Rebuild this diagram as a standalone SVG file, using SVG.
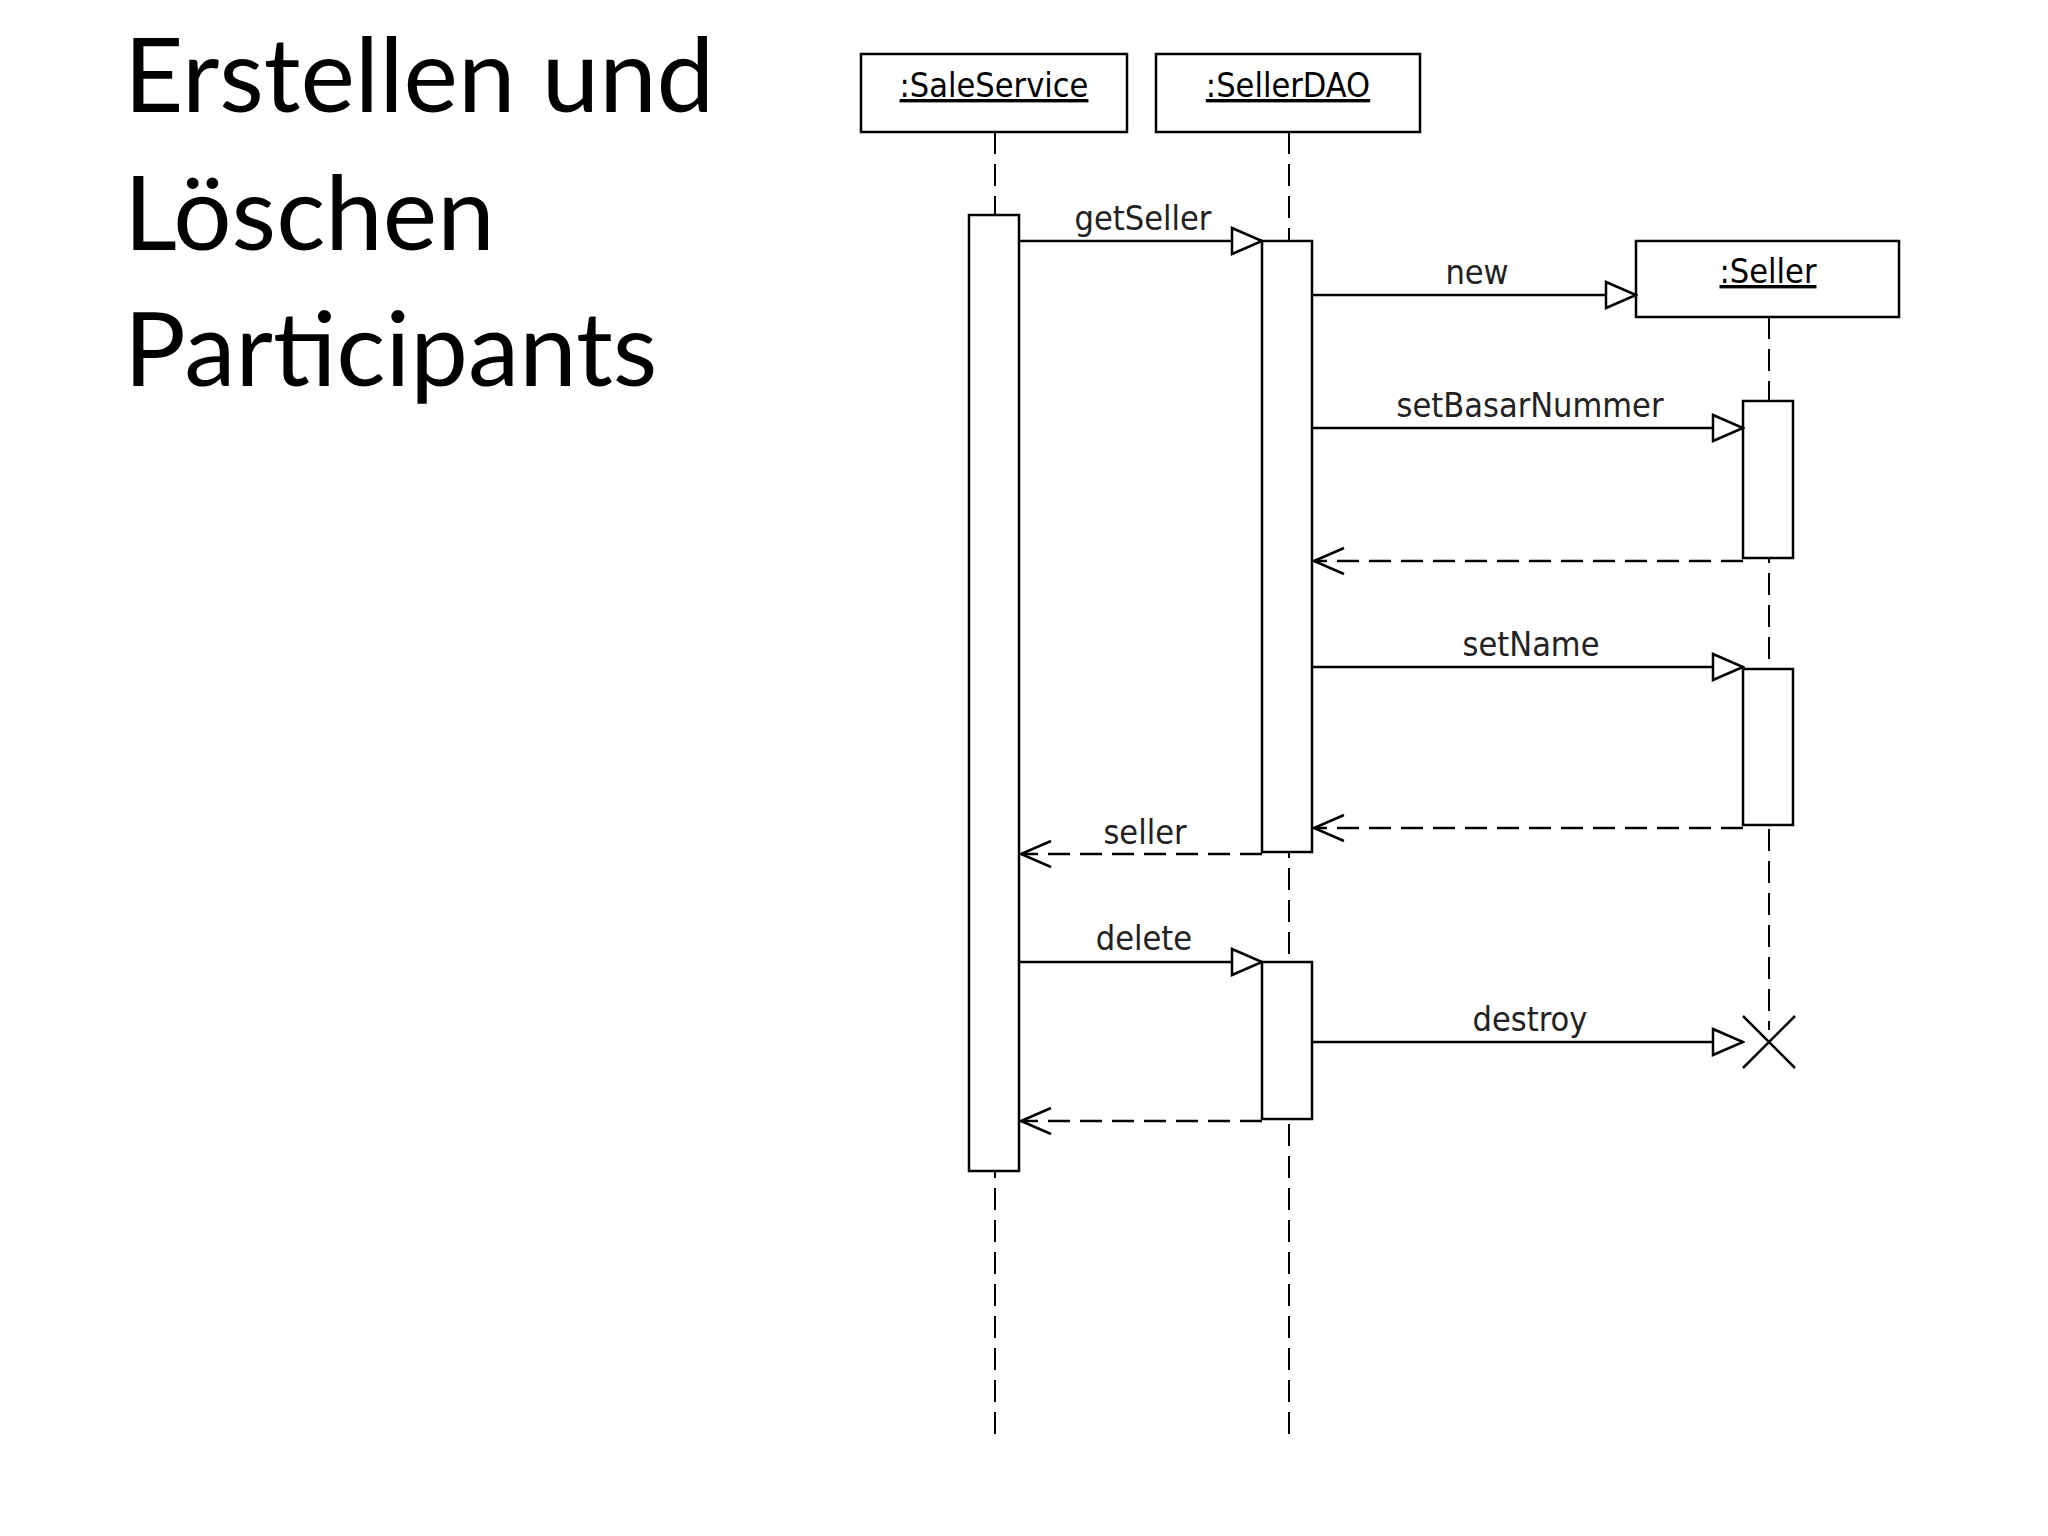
<svg xmlns="http://www.w3.org/2000/svg" width="2048" height="1536" viewBox="0 0 2048 1536">
<defs>
<style>
.t{font-family:Lato,"Open Sans",sans-serif;font-size:103px;fill:#000}
.l{font-family:"DejaVu Sans Condensed","DejaVu Sans",sans-serif;font-size:34px;fill:#222;text-anchor:middle}
.n{font-family:"DejaVu Sans Condensed","DejaVu Sans",sans-serif;font-size:34px;fill:#000;text-anchor:middle;text-decoration:underline}
.b{fill:#fff;stroke:#000;stroke-width:2.5}
.ll{stroke:#000;stroke-width:2;stroke-dasharray:22 10;fill:none}
.m{stroke:#000;stroke-width:2.5;fill:none}
.r{stroke:#000;stroke-width:2.5;fill:none;stroke-dasharray:22 10}
</style>
<marker id="tri" markerWidth="34" markerHeight="30" refX="32" refY="15" orient="auto" markerUnits="userSpaceOnUse"><path d="M2,2 L32,15 L2,28 Z" fill="#fff" stroke="#000" stroke-width="2.5"/></marker>
<marker id="open" markerWidth="34" markerHeight="30" refX="32" refY="15" orient="auto" markerUnits="userSpaceOnUse"><path d="M2,2 L32,15 L2,28" fill="none" stroke="#000" stroke-width="2.5"/></marker>
</defs>
<rect width="2048" height="1536" fill="#fff"/>
<g id="title">
<text class="t" x="124" y="112">Erstellen und</text>
<text class="t" x="124" y="250">Löschen</text>
<text class="t" x="124" y="386">Participants</text>
</g>
<g transform="translate(-5,0)">
<g id="lifelines">
<line class="ll" x1="1000" y1="132" x2="1000" y2="1435"/>
<line class="ll" x1="1294" y1="132" x2="1294" y2="1441"/>
<line class="ll" x1="1774" y1="317" x2="1774" y2="1030"/>
</g>
<g id="saleService"><rect class="b" x="866" y="54" width="266" height="78"/><text class="n" x="999" y="97">:SaleService</text></g>
<g id="sellerDAO"><rect class="b" x="1161" y="54" width="264" height="78"/><text class="n" x="1293" y="97">:SellerDAO</text></g>
<g id="seller"><rect class="b" x="1641" y="241" width="263" height="76"/><text class="n" x="1773" y="283">:Seller</text></g>
<g id="activations">
<rect class="b" x="974" y="215" width="50" height="956"/>
<rect class="b" x="1267" y="241" width="50" height="611"/>
<rect class="b" x="1748" y="401" width="50" height="157"/>
<rect class="b" x="1748" y="669" width="50" height="156"/>
<rect class="b" x="1267" y="962" width="50" height="157"/>
</g>
<g id="connectors">
<line class="m" x1="1024" y1="241" x2="1267" y2="241" marker-end="url(#tri)"/>
<line class="m" x1="1317" y1="295" x2="1641" y2="295" marker-end="url(#tri)"/>
<line class="m" x1="1317" y1="428" x2="1748" y2="428" marker-end="url(#tri)"/>
<line class="r" x1="1748" y1="561" x2="1319" y2="561" marker-end="url(#open)"/>
<line class="m" x1="1317" y1="667" x2="1748" y2="667" marker-end="url(#tri)"/>
<line class="r" x1="1748" y1="828" x2="1319" y2="828" marker-end="url(#open)"/>
<line class="r" x1="1267" y1="854" x2="1026" y2="854" marker-end="url(#open)"/>
<line class="m" x1="1024" y1="962" x2="1267" y2="962" marker-end="url(#tri)"/>
<line class="m" x1="1317" y1="1042" x2="1748" y2="1042" marker-end="url(#tri)"/>
<line class="r" x1="1267" y1="1121" x2="1026" y2="1121" marker-end="url(#open)"/>
<path class="m" d="M1748,1016 L1800,1068 M1800,1016 L1748,1068"/>
</g>
<g id="labels">
<text class="l" x="1148" y="230">getSeller</text>
<text class="l" x="1482" y="284">new</text>
<text class="l" x="1535" y="417">setBasarNummer</text>
<text class="l" x="1536" y="656">setName</text>
<text class="l" x="1150" y="844">seller</text>
<text class="l" x="1149" y="950">delete</text>
<text class="l" x="1535" y="1031">destroy</text>
</g>
</g>
</svg>
